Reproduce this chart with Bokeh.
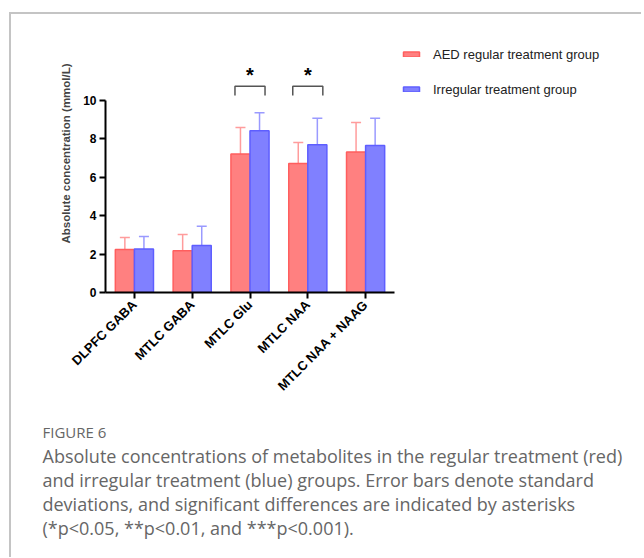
import math
from bokeh.plotting import figure
from bokeh.layouts import column
from bokeh.models import (Range1d, ColumnDataSource, Whisker, TeeHead,
                          Legend, LegendItem, FixedTicker)
from bokeh.transform import dodge
from bokeh.core.properties import value
from bokeh.embed import file_html
from bokeh.resources import INLINE

# ---- data ----
categories = ["DLPFC GABA", "MTLC GABA", "MTLC Glu", "MTLC NAA", "MTLC NAA + NAAG"]
regular_mean = [2.24, 2.17, 7.22, 6.72, 7.32]
regular_sd = [0.62, 0.85, 1.37, 1.09, 1.53]
irregular_mean = [2.27, 2.45, 8.42, 7.69, 7.65]
irregular_sd = [0.65, 1.00, 0.94, 1.39, 1.43]
series_names = ["AED regular treatment group", "Irregular treatment group"]
significant = ["MTLC Glu", "MTLC NAA"]
sig_marks = ["*", "*"]
y_ticks = [0, 2, 4, 6, 8, 10]
caption_title = "FIGURE 6"
caption_lines = [
    "Absolute concentrations of metabolites in the regular treatment (red)",
    "and irregular treatment (blue) groups. Error bars denote standard",
    "deviations, and significant differences are indicated by asterisks",
    "(*p<0.05, **p<0.01, and ***p<0.001).",
]

RED_FILL, RED_LINE, RED_ERR = "#ff8080", "#ff5e5e", "#ff9c9c"
BLUE_FILL, BLUE_LINE, BLUE_ERR = "#8080ff", "#5e5eff", "#9a9aff"
CAP_COLOR = "#666666"

# ---- layout geometry (pixels) ----
OX, OY = 11, 14          # page offset of the chart's canvas (margin + border)
W = 630
BL, BB = 94, 115         # left / bottom panels of the chart
FW, FH = W - BL, 278     # frame size
CAT_PX = 57.8            # pixels per category
PX_PER_UNIT = 19.2       # pixels per mmol/L
FRAME_LEFT_PAGE = OX + BL
FRAME_BOTTOM_PAGE = OY + FH

pos = [i + 0.5 for i in range(len(categories))]
src = ColumnDataSource(dict(
    pos=pos,
    reg=regular_mean,
    reg_hi=[m + s for m, s in zip(regular_mean, regular_sd)],
    irr=irregular_mean,
    irr_hi=[m + s for m, s in zip(irregular_mean, irregular_sd)],
))

p = figure(x_range=Range1d(0, FW / CAT_PX), y_range=Range1d(0, FH / PX_PER_UNIT),
           frame_width=FW, frame_height=FH,
           min_border_left=BL, min_border_right=0,
           min_border_top=0, min_border_bottom=BB,
           output_backend="svg", toolbar_location=None)
p.outline_line_color = None
p.xgrid.grid_line_color = None
p.ygrid.grid_line_color = None

off = 0.165
w = 0.33
r1 = p.vbar(x=dodge("pos", -off), top="reg", width=w, source=src,
            fill_color=RED_FILL, line_color=RED_LINE, line_width=1.5)
r2 = p.vbar(x=dodge("pos", off), top="irr", width=w, source=src,
            fill_color=BLUE_FILL, line_color=BLUE_LINE, line_width=1.5)

for key, hi, col, o in [("reg", "reg_hi", RED_ERR, -off), ("irr", "irr_hi", BLUE_ERR, off)]:
    wk = Whisker(base=dodge("pos", o), lower=key, upper=hi, source=src,
                 line_color=col, line_width=1.5,
                 upper_head=TeeHead(size=10, line_color=col, line_width=1.5),
                 lower_head=None)
    p.add_layout(wk)

# significance brackets
centers = [pos[categories.index(c)] for c in significant]
bx = [[c - 0.26, c - 0.26, c + 0.26, c + 0.26] for c in centers]
by = [[10.26, 10.74, 10.74, 10.26] for _ in centers]
p.multi_line(xs=bx, ys=by, line_color="#555555", line_width=1.5)
p.text(x=centers, y=[11.35] * len(centers), text=sig_marks,
       text_font=value("Liberation Sans"), text_font_style="bold",
       text_font_size="20px", text_align="center", text_baseline="middle",
       text_color="black")

# axes
for ax in (p.xaxis[0], p.yaxis[0]):
    ax.axis_line_width = 2
    ax.axis_line_color = "black"
    ax.major_tick_line_width = 2
    ax.major_tick_line_color = "black"
    ax.major_tick_out = 6
    ax.major_tick_in = 0
    ax.minor_tick_line_color = None
    ax.major_label_text_font = "Liberation Sans"
    ax.major_label_text_font_style = "bold"
    ax.major_label_text_color = "black"

p.yaxis.ticker = FixedTicker(ticks=y_ticks)
p.yaxis.bounds = (0, 10)
p.yaxis.major_label_text_font_size = "12px"
p.yaxis.major_label_standoff = 3
p.yaxis.axis_label = "Absolute concentration (mmol/L)"
p.yaxis.axis_label_text_font = "Liberation Sans"
p.yaxis.axis_label_text_font_style = "bold"
p.yaxis.axis_label_text_font_size = "11.5px"
p.yaxis.axis_label_standoff = 8

p.xaxis.ticker = FixedTicker(ticks=pos)
p.xaxis.major_label_overrides = {x: c for x, c in zip(pos, categories)}
p.xaxis.bounds = (0, len(categories))
p.xaxis.major_label_orientation = math.pi / 4
p.xaxis.major_label_text_font_size = "13px"
p.xaxis.major_label_standoff = 4

# legend: location = its bottom-left corner, from the frame's bottom-left
legend = Legend(items=[LegendItem(label=series_names[0], renderers=[r1]),
                       LegendItem(label=series_names[1], renderers=[r2])],
                location=(401 - FRAME_LEFT_PAGE, FRAME_BOTTOM_PAGE - 99),
                glyph_width=20, glyph_height=6,
                label_text_font="Liberation Sans", label_text_font_size="13px",
                label_text_color="#222222", label_standoff=12, label_height=20,
                spacing=15, padding=0, margin=0,
                border_line_color=None, background_fill_alpha=0)
p.add_layout(legend)

# ---- caption panel (its frame fills its whole canvas: 1 data unit = 1 px) ----
CH = 150
CAP_TOP_PAGE = OY + FH + BB
p2 = figure(frame_width=W, frame_height=CH, x_range=Range1d(0, W), y_range=Range1d(CH, 0),
            x_axis_type=None, y_axis_type=None, min_border=0,
            output_backend="svg", toolbar_location=None)
p2.outline_line_color = None
for fig in (p, p2):
    if "frame_align" in fig.properties():
        fig.frame_align = False
p2.text(x=[42 - OX], y=[431 - CAP_TOP_PAGE], text=[caption_title],
        text_font=value("Open Sans"), text_font_size="15px", text_color=CAP_COLOR,
        text_baseline="middle", text_align="left")
p2.text(x=[42 - OX] * len(caption_lines),
        y=[455 + 24 * i - CAP_TOP_PAGE for i in range(len(caption_lines))],
        text=caption_lines,
        text_font=value("Open Sans"), text_font_size="18px", text_color=CAP_COLOR,
        text_baseline="middle", text_align="left")

layout = column(p, p2, spacing=0, margin=(12, 0, 0, 9),
                styles={"border-left": "2px solid #c4c4c4",
                        "border-top": "2px solid #c4c4c4"})

open("out.html", "w").write(file_html(layout, INLINE))
